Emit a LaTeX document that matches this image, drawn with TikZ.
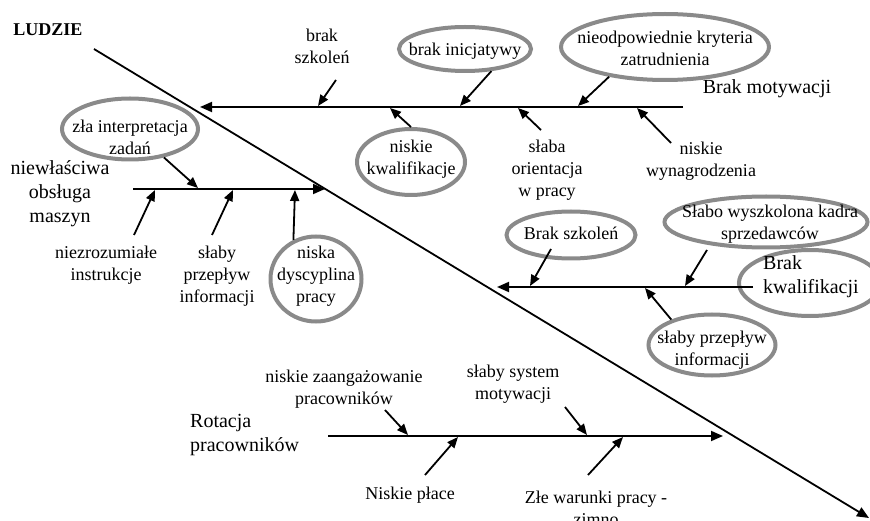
\documentclass[tikz,border=0pt]{standalone}
\usepackage{fontspec}
\setmainfont{Liberation Serif}
\usetikzlibrary{arrows.meta,shapes.geometric}
\definecolor{ringgray}{RGB}{138,138,138}

\begin{document}
\begin{tikzpicture}[x=1pt,y=-1pt]
	\tikzset{bone/.style = {line width=1.8pt, -{Triangle[length=12pt,width=10pt]}},
		cause/.style = {line width=1.8pt, -{Triangle[length=11pt,width=9pt]}},
		lbl/.style = {font=\fontsize{18}{22}\selectfont, align=center, inner sep=0pt},
		head/.style = {font=\fontsize{20}{24}\selectfont, align=center, inner sep=0pt},
		ring/.style = {shape=ellipse, draw=ringgray, line width=4pt, inner sep=0pt}}
	\useasboundingbox (0,0) rectangle (870,521);
	% Rings
	\node[ring, minimum width=132pt, minimum height=44pt] (inicj) at (465,49) {};
	\node[ring, minimum width=208pt, minimum height=66pt] (kryt) at (665,47) {};
	\node[ring, minimum width=108pt, minimum height=66pt] (nkwal) at (411,162) {};
	\node[ring, minimum width=136pt, minimum height=61pt] (zla) at (130,129) {};
	\node[ring, minimum width=91pt, minimum height=85pt] (dysc) at (316,279) {};
	\node[ring, minimum width=129pt, minimum height=47pt] (bszk) at (571,235) {};
	\node[ring, minimum width=203pt, minimum height=51pt] (kadra) at (766,222) {};
	\node[ring, minimum width=142pt, minimum height=66pt] (kwalring) at (810,283) {};
	\node[ring, minimum width=127pt, minimum height=61pt] (przep) at (712,345) {};
	% Spine
	\coordinate (head) at (94,49);
	\coordinate (tail) at (869,518);
	\draw[bone] (head) -- (tail);
	\node[font=\bfseries\fontsize{18}{22}\selectfont, inner sep=0pt] (ludzie) at (48,30) {LUDZIE};
	% Bones
	\coordinate (m0) at (683,107);
	\coordinate (m1) at (200,107);
	\coordinate (o0) at (133,189);
	\coordinate (o1) at (325,189);
	\coordinate (k0) at (753,287);
	\coordinate (k1) at (497,287);
	\coordinate (r0) at (328,436);
	\coordinate (r1) at (723,436);
	\draw[bone] (m0) -- (m1);
	\draw[bone] (o0) -- (o1);
	\draw[bone] (k0) -- (k1);
	\draw[bone] (r0) -- (r1);
	\node[head] (motyw) at (767,89) {Brak motywacji};
	\node[head] (obsl) at (60,194) {niewłaściwa\\obsługa\\maszyn};
	\node[head, align=left, anchor=west] (kwal) at (763,277) {Brak\\kwalifikacji};
	\node[head, align=left, anchor=west] (rot) at (190,435) {Rotacja\\pracowników};
	% Labels
	\node[lbl] (inicjT) at (465,51) {brak inicjatywy};
	\node[lbl] (krytT) at (665,48) {nieodpowiednie kryteria\\zatrudnienia};
	\node[lbl] (nkwalT) at (411,159) {niskie\\kwalifikacje};
	\node[lbl] (zlaT) at (130,137) {zła interpretacja\\zadań};
	\node[lbl] (dyscT) at (316,276) {niska\\dyscyplina\\pracy};
	\node[lbl] (bszkT) at (571,233) {Brak szkoleń};
	\node[lbl] (kadraT) at (770,224) {Słabo wyszkolona kadra\\sprzedawców};
	\node[lbl] (przepT) at (712,350) {słaby przepływ\\informacji};
	\node[lbl] (szkol) at (322,46) {brak\\szkoleń};
	\node[lbl] (orient) at (547,170) {słaba\\orientacja\\w pracy};
	\node[lbl] (wynagr) at (701,161) {niskie\\wynagrodzenia};
	\node[lbl] (instr) at (106,265) {niezrozumiałe\\instrukcje};
	\node[lbl] (inform) at (217,276) {słaby\\przepływ\\informacji};
	\node[lbl] (zaang) at (344,389) {niskie zaangażowanie\\pracowników};
	\node[lbl] (system) at (513,384) {słaby system\\motywacji};
	\node[lbl] (place) at (410,495) {Niskie płace};
	\node[lbl] (warunki) at (596,508) {Złe warunki pracy -\\zimno};
	% Causes
	\coordinate (mA) at (318,106);
	\coordinate (mB) at (460,106);
	\coordinate (mC) at (578,106);
	\coordinate (mD) at (390,108);
	\coordinate (mE) at (518,108);
	\coordinate (mF) at (637,108);
	\coordinate (oA) at (198,188);
	\coordinate (oB) at (155,190);
	\coordinate (oC) at (233,190);
	\coordinate (oD) at (295,190);
	\coordinate (kA) at (530,286);
	\coordinate (kB) at (685,286);
	\coordinate (kC) at (645,288);
	\coordinate (rA) at (408,435);
	\coordinate (rB) at (587,435);
	\coordinate (rC) at (458,437);
	\coordinate (rD) at (623,437);
	\draw[cause] ([xshift=14pt,yshift=-34pt]szkol.center) -- (mA);
	\draw[cause] (inicj.-40) -- (mB);
	\draw[cause] (kryt.-152) -- (mC);
	\draw[cause] (nkwal.90) -- (mD);
	\draw[cause] ([xshift=-6pt,yshift=40pt]orient.center) -- (mE);
	\draw[cause] ([xshift=-30pt,yshift=18pt]wynagr.center) -- (mF);
	\draw[cause] (zla.-40) -- (oA);
	\draw[cause] ([xshift=28pt,yshift=30pt]instr.center) -- (oB);
	\draw[cause] ([xshift=-5pt,yshift=41pt]inform.center) -- (oC);
	\draw[cause] (dysc.120) -- (oD);
	\draw[cause] ([xshift=-20pt,yshift=-14pt]bszk.center) -- (kA);
	\draw[cause] ([xshift=-59pt,yshift=-28pt]kadra.center) -- (kB);
	\draw[cause] (przep.148) -- (kC);
	\draw[cause] ([xshift=41pt,yshift=-21pt]zaang.center) -- (rA);
	\draw[cause] ([xshift=52pt,yshift=-23pt]system.center) -- (rB);
	\draw[cause] ([xshift=15pt,yshift=20pt]place.center) -- (rC);
	\draw[cause] ([xshift=-8pt,yshift=33pt]warunki.center) -- (rD);
\end{tikzpicture}
\end{document}
